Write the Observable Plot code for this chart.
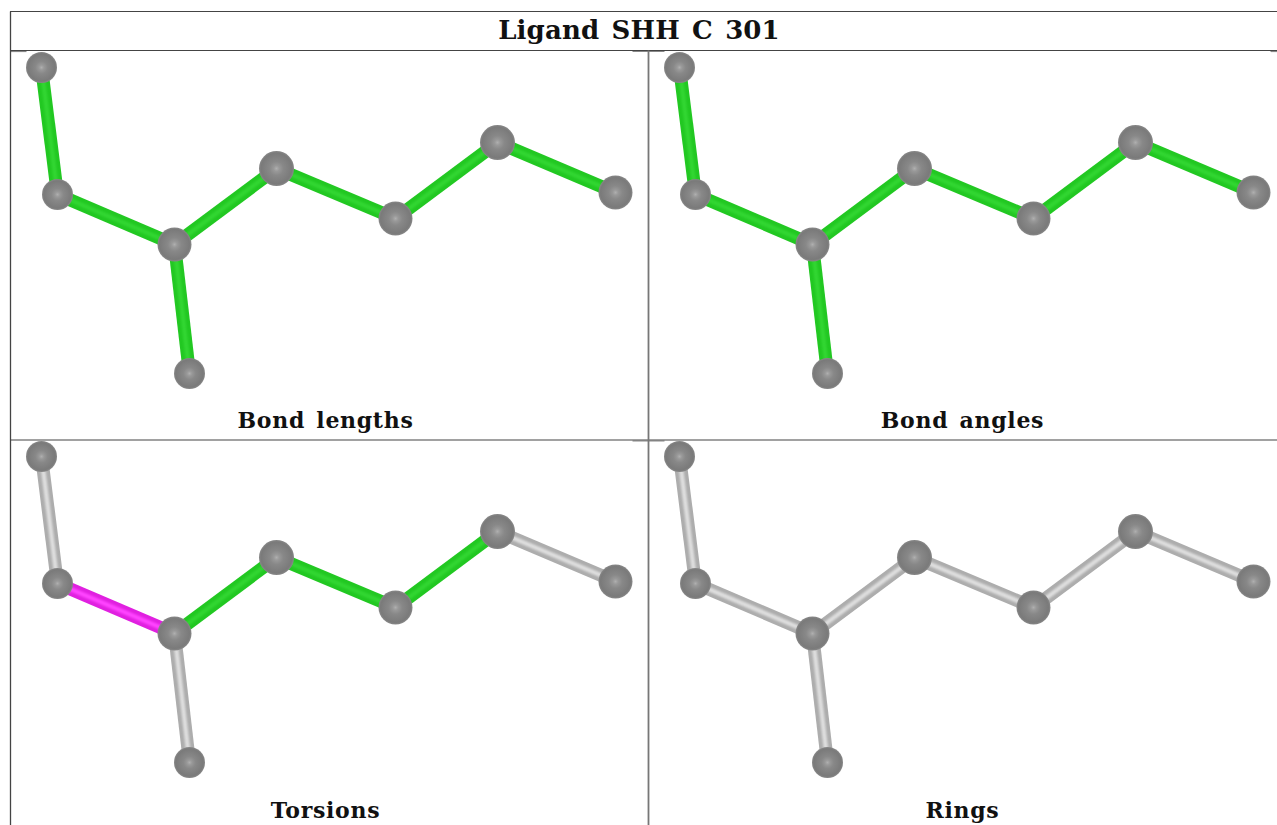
<!DOCTYPE html>
<html>
<head>
<meta charset="utf-8">
<script src="https://cdn.jsdelivr.net/npm/d3@7"></script>
<script src="https://cdn.jsdelivr.net/npm/@observablehq/plot@0.6"></script>
<style>
html,body{margin:0;padding:0;background:#fff;overflow:hidden}
svg{display:block}
g[font-size="26"]{letter-spacing:0.15px;word-spacing:3px}
g[font-size="22"]{letter-spacing:0.7px;word-spacing:3px}
</style>
</head>
<body>
<div id="chart"></div>
<script>
const title = "Ligand SHH C 301";
const panelNames = ["Bond lengths", "Bond angles", "Torsions", "Rings"];
const panelDx = [0, 638, 0, 638];
const panelDy = [0, 0, 389, 389];
const labelX = [325, 962, 325, 962];
const labelY = [420, 420, 810, 810];

const atomX = [41, 57, 174, 276, 395, 497, 615, 189];
const atomY = [67, 194, 244, 168, 218, 142, 192, 373];
const atomR = [15.5, 15.5, 17, 17.5, 17, 17.5, 17, 15.5];

const bondFrom = [0, 1, 2, 3, 4, 5, 2];
const bondTo   = [1, 2, 3, 4, 5, 6, 7];
const bondStatus = [
  ["good", "good", "good", "good", "good", "good", "good"],
  ["good", "good", "good", "good", "good", "good", "good"],
  ["none", "outlier", "good", "good", "good", "none", "none"],
  ["none", "none", "none", "none", "none", "none", "none"]
];
const outerColor = {good: "#22c822", outlier: "#e020e0", none: "#adadad"};
const innerColor = {good: "#32d632", outlier: "#ff45ff", none: "#dedede"};

const hLinesY = [11, 50, 439.5];
const vLines = [
  {x: 10, y1: 11, y2: 825, c: "#444", w: 1.3},
  {x: 648, y1: 50, y2: 825, c: "#777", w: 1.8}
];
const stubs = [
  {x1: 10, x2: 26, y: 51},
  {x1: 632, x2: 664, y: 51},
  {x1: 1270, x2: 1277, y: 51},
  {x1: 632, x2: 664, y: 440.5}
];

const atoms = panelNames.flatMap((p, i) => atomX.map((x, k) => ({
  x: x + panelDx[i], y: atomY[k] + panelDy[i], r: atomR[k]
})));
const bonds = panelNames.flatMap((p, i) => bondFrom.map((a, k) => ({
  x1: atomX[a] + panelDx[i], y1: atomY[a] + panelDy[i],
  x2: atomX[bondTo[k]] + panelDx[i], y2: atomY[bondTo[k]] + panelDy[i],
  status: bondStatus[i][k]
})));
const labels = panelNames.map((t, i) => ({t, x: labelX[i], y: labelY[i]}));

function sphereDefs() {
  const defs = d3.create("svg:defs");
  const g = defs.append("radialGradient").attr("id", "sphere");
  [[0, "#afafaf"], [0.16, "#999999"], [0.4, "#888888"], [0.88, "#7a7a7a"], [1, "#888888"]]
    .forEach(([o, c]) => g.append("stop").attr("offset", o).attr("stop-color", c));
  return defs.node();
}

const font = "'DejaVu Serif', serif";

const plot = Plot.plot({
  width: 1277,
  height: 825,
  margin: 0,
  style: {background: "#fff"},
  x: {domain: [0, 1277], range: [0, 1277], axis: null},
  y: {domain: [0, 825], range: [0, 825], axis: null},
  r: {type: "identity"},
  marks: [
    sphereDefs,
    Plot.link(stubs, {x1: "x1", x2: "x2", y1: "y", y2: "y", stroke: "#888", strokeWidth: 1.2}),
    Plot.ruleY(hLinesY, {x1: 10, x2: 1277, stroke: "#444", strokeWidth: 1.2}),
    Plot.link(vLines, {x1: "x", x2: "x", y1: "y1", y2: "y2", stroke: d => d.c, strokeWidth: d => d.w}),
    Plot.link(bonds, {x1: "x1", y1: "y1", x2: "x2", y2: "y2", stroke: d => outerColor[d.status], strokeWidth: 13, imageFilter: "blur(0.7px)"}),
    Plot.link(bonds, {x1: "x1", y1: "y1", x2: "x2", y2: "y2", stroke: d => innerColor[d.status], strokeWidth: 4.5, imageFilter: "blur(1px)"}),
    Plot.dot(atoms, {x: "x", y: "y", r: "r", fill: "url(#sphere)", stroke: "none", imageFilter: "blur(0.7px)"}),
    Plot.text([title], {x: [638.5], y: [29.7], text: d => d, fontFamily: font, fontWeight: "bold", fontSize: 26, fill: "#111"}),
    Plot.text(labels, {x: "x", y: "y", text: "t", fontFamily: font, fontWeight: "bold", fontSize: 22, fill: "#111"})
  ]
});
document.getElementById("chart").appendChild(plot);
</script>
</body>
</html>
